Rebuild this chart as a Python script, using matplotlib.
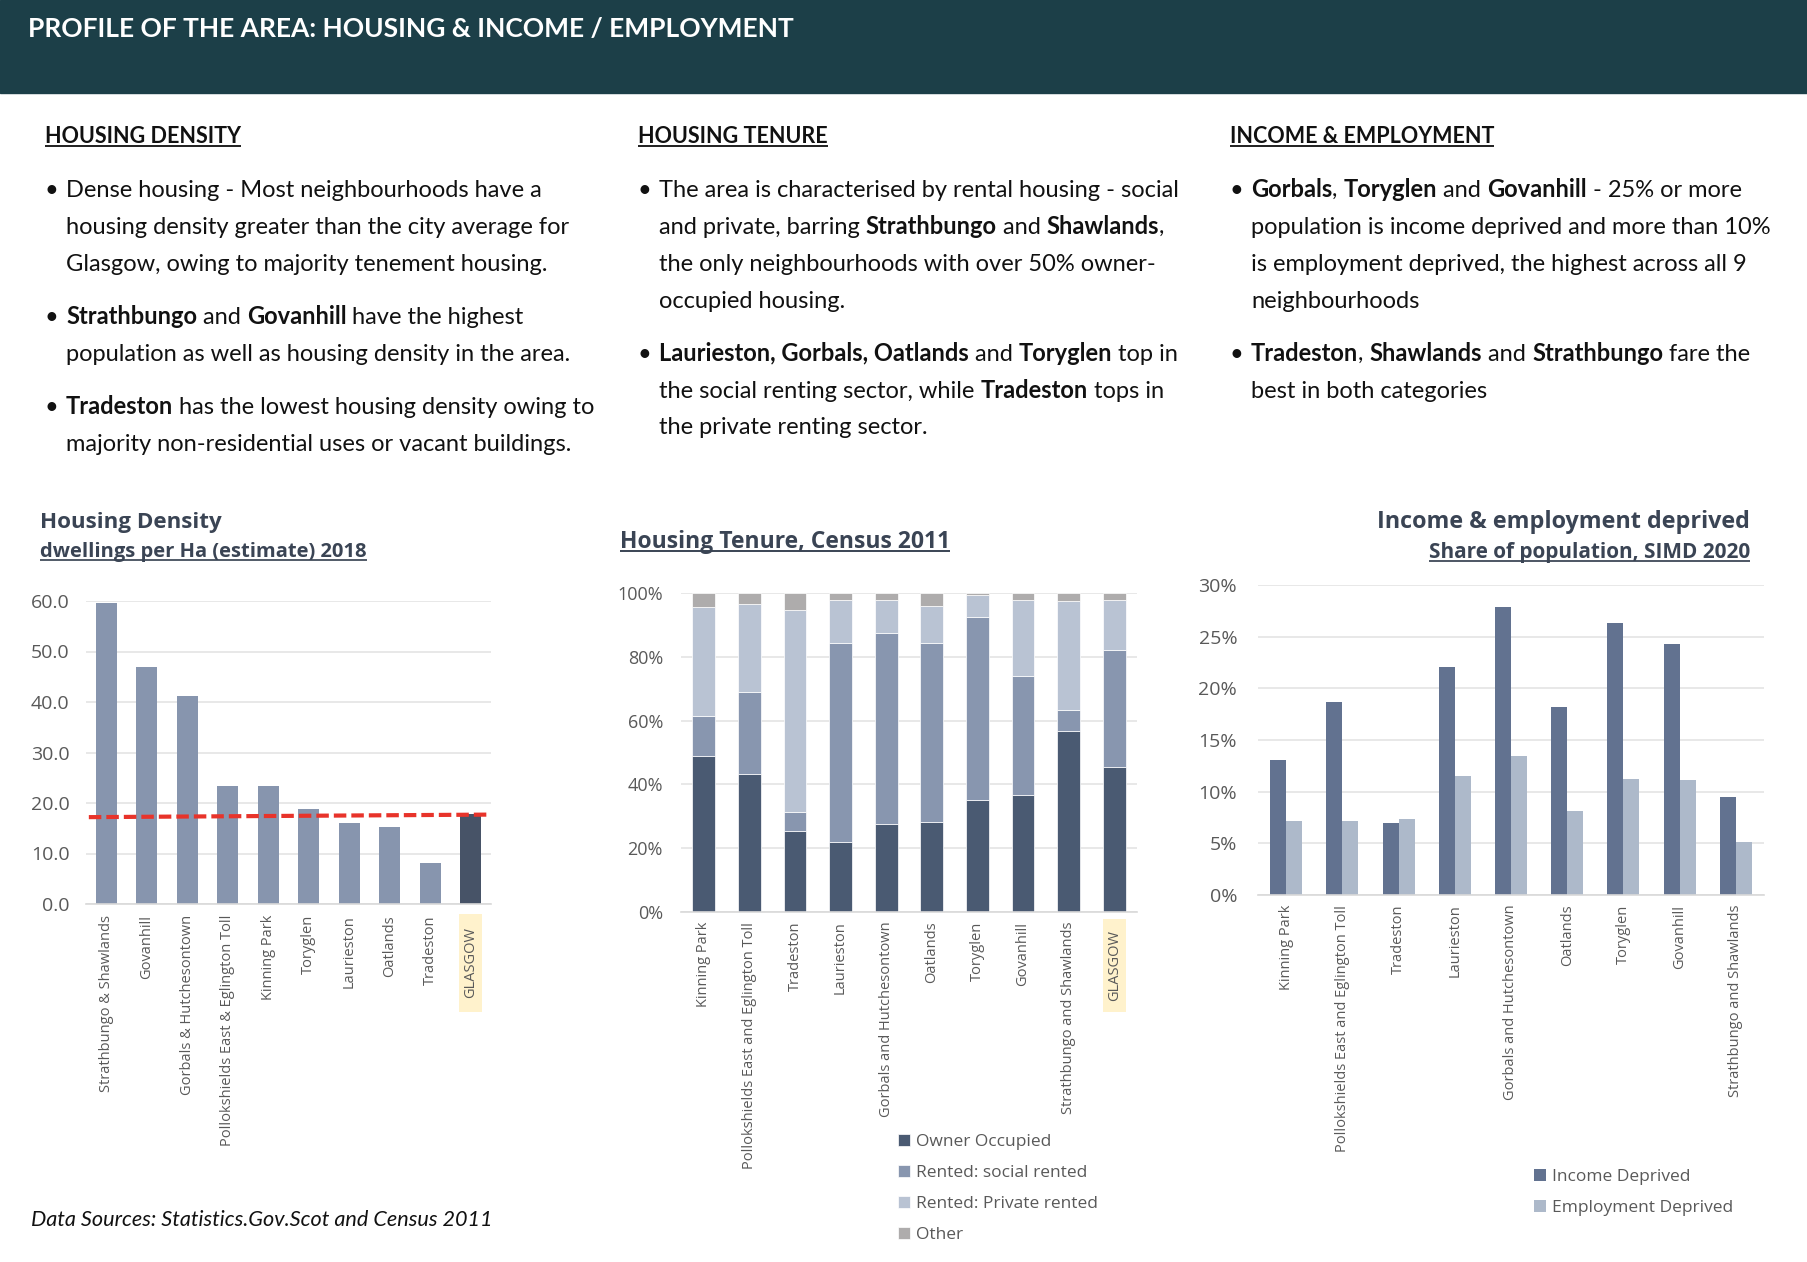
import matplotlib
matplotlib.use('Agg')
import matplotlib.pyplot as plt
from matplotlib.patches import Rectangle
from matplotlib.ticker import FuncFormatter
import numpy as np

W, H = 1808, 1262
TEXT_FONT = 'Lato'
plt.rcParams['font.family'] = ['Open Sans', 'DejaVu Sans']

HEADER_BG = '#1C3F48'
TITLE_C = '#3A4454'
TICK_C = '#595959'

# ---- data ----
density_areas = ['Strathbungo & Shawlands', 'Govanhill', 'Gorbals & Hutchesontown',
                 'Pollokshields East & Eglington Toll', 'Kinning Park', 'Toryglen',
                 'Laurieston', 'Oatlands', 'Tradeston', 'GLASGOW']
density_values = [59.7, 47.0, 41.2, 23.4, 23.3, 18.8, 16.0, 15.3, 8.1, 17.8]
glasgow_avg_line = [17.2, 17.7]

tenure_areas = ['Kinning Park', 'Pollokshields East and Eglington Toll', 'Tradeston',
                'Laurieston', 'Gorbals and Hutchesontown', 'Oatlands', 'Toryglen',
                'Govanhill', 'Strathbungo and Shawlands', 'GLASGOW']
owner_occupied = [49.0, 43.4, 25.4, 22.0, 27.7, 28.2, 35.2, 36.8, 56.7, 45.5]
social_rented = [12.4, 25.7, 5.8, 62.3, 59.7, 56.1, 57.3, 37.2, 6.5, 36.7]
private_rented = [34.2, 27.6, 63.6, 13.4, 10.3, 11.5, 6.8, 23.7, 34.2, 15.5]
other_tenure = [4.4, 3.3, 5.2, 2.3, 2.3, 4.2, 0.7, 2.3, 2.6, 2.3]

simd_areas = tenure_areas[:-1]
income_deprived = [13.1, 18.7, 7.0, 22.1, 27.9, 18.2, 26.3, 24.3, 9.5]
employment_deprived = [7.2, 7.2, 7.4, 11.5, 13.5, 8.1, 11.2, 11.1, 5.1]

fig = plt.figure(figsize=(W / 100, H / 100), dpi=100)
bg = fig.add_axes([0, 0, 1, 1])
bg.set_xlim(0, W)
bg.set_ylim(H, 0)
bg.axis('off')
renderer = fig.canvas.get_renderer()


def width_of(s, size, **kw):
    t = bg.text(0, 0, s, fontsize=size, **kw)
    w = t.get_window_extent(renderer).width
    t.remove()
    return w


def advance(s, size, **kw):
    # width including spaces at the ends
    return width_of('|' + s + '|', size, **kw) - width_of('||', size, **kw)


def fit(s, target, **kw):
    return 20 * target / width_of(s, 20, **kw)


def put(x, yc, s, size, ha='left', underline=False, color='black', **kw):
    px = size * 100 / 72
    base = yc + 0.36 * px
    bg.text(x, base, s, fontsize=size, ha=ha, va='baseline', color=color, **kw)
    if underline:
        w = width_of(s, size, **kw)
        x0 = x if ha == 'left' else x - w
        uy = base + 0.14 * px
        bg.plot([x0, x0 + w], [uy, uy], color=color, lw=max(1.0, size * 0.085),
                solid_capstyle='butt')


def put_runs(x, yc, runs, size, color='#111111'):
    for s, bold in runs:
        kw = dict(family=TEXT_FONT, fontweight='bold' if bold else 'normal')
        put(x, yc, s, size, color=color, **kw)
        x += advance(s, size, **kw)


# ---- header ----
bg.add_patch(Rectangle((0, 0), W, 93, color=HEADER_BG, zorder=0))
hs = fit('PROFILE OF THE AREA: HOUSING & INCOME / EMPLOYMENT', 765,
         family=TEXT_FONT, fontweight='bold')
put(28, 28, 'PROFILE OF THE AREA: HOUSING & INCOME / EMPLOYMENT', hs,
    color='white', family=TEXT_FONT, fontweight='bold')

# ---- text columns ----
head_size = fit('HOUSING DENSITY', 196, family=TEXT_FONT, fontweight='bold')
body_size = fit('Dense housing - Most neighbourhoods have a', 478, family=TEXT_FONT)

columns = [
    (45, 'HOUSING DENSITY', [
        (188, [('Dense housing - Most neighbourhoods have a', False)], True),
        (225, [('housing density greater than the city average for', False)], False),
        (262, [('Glasgow, owing to majority tenement housing.', False)], False),
        (315, [('Strathbungo', True), (' and ', False), ('Govanhill', True),
               (' have the highest', False)], True),
        (352, [('population as well as housing density in the area.', False)], False),
        (405, [('Tradeston', True), (' has the lowest housing density owing to', False)], True),
        (442, [('majority non-residential uses or vacant buildings.', False)], False),
    ]),
    (638, 'HOUSING TENURE', [
        (188, [('The area is characterised by rental housing - social', False)], True),
        (225, [('and private, barring ', False), ('Strathbungo', True), (' and ', False),
               ('Shawlands', True), (',', False)], False),
        (262, [('the only neighbourhoods with over 50% owner-', False)], False),
        (299, [('occupied housing.', False)], False),
        (352, [('Laurieston, Gorbals, Oatlands', True), (' and ', False),
               ('Toryglen', True), (' top in', False)], True),
        (389, [('the social renting sector, while ', False), ('Tradeston', True),
               (' tops in', False)], False),
        (425, [('the private renting sector.', False)], False),
    ]),
    (1230, 'INCOME & EMPLOYMENT', [
        (188, [('Gorbals', True), (', ', False), ('Toryglen', True), (' and ', False),
               ('Govanhill', True), (' - 25% or more', False)], True),
        (225, [('population is income deprived and more than 10%', False)], False),
        (262, [('is employment deprived, the highest across all 9', False)], False),
        (299, [('neighbourhoods', False)], False),
        (352, [('Tradeston', True), (', ', False), ('Shawlands', True), (' and ', False),
               ('Strathbungo', True), (' fare the', False)], True),
        (389, [('best in both categories', False)], False),
    ]),
]

for cx, heading, lines in columns:
    put(cx, 135, heading, head_size, underline=True, color='#111111',
        family=TEXT_FONT, fontweight='bold')
    for yc, runs, bullet in lines:
        if bullet:
            put(cx + 6, yc, '\u2022', body_size, ha='center', color='#111111',
                family=TEXT_FONT)
        put_runs(cx + 21, yc, runs, body_size)


# ---- charts ----
def chart_axes(x0, y0, x1, y1):
    return fig.add_axes([x0 / W, 1 - y1 / H, (x1 - x0) / W, (y1 - y0) / H])


def style_axes(ax, ypad, xpad):
    for side in ['top', 'right', 'left']:
        ax.spines[side].set_visible(False)
    ax.spines['bottom'].set_color('#D9D9D9')
    ax.spines['bottom'].set_linewidth(1.2)
    ax.yaxis.grid(True, color='#E4E4E4', lw=1.2)
    ax.set_axisbelow(True)
    ax.tick_params(length=0, colors=TICK_C)
    ax.tick_params(axis='y', labelsize=14, pad=ypad)
    ax.tick_params(axis='x', labelsize=10.5, pad=xpad)


def highlight_last(ax, labels, top, bottom):
    # Excel-style shaded cell behind the GLASGOW category label
    ax.set_xticklabels(labels[:-1] + [''], rotation=90)
    xi = ax.get_xticks()[-1]
    xpix = ax.transData.transform((xi, 0))[0]
    bg.add_patch(Rectangle((xpix - 11.5, top), 23, bottom - top,
                           facecolor='#FFF2CC', edgecolor='none'))
    bg.text(xpix, (top + bottom) / 2, labels[-1], rotation=90, ha='center',
            va='center', fontsize=10.5, color=TICK_C)


# Housing density
ax1 = chart_axes(86, 601, 491, 904)
x1 = np.arange(len(density_areas))
bar_cols = ['#8795AE'] * (len(density_areas) - 1) + ['#475367']
ax1.bar(x1, density_values, width=0.53, color=bar_cols, zorder=2)
ax1.plot([-0.43, len(density_areas) - 0.57], glasgow_avg_line, color='#E8332A',
         lw=3, linestyle=(0, (3, 1.2)), zorder=3)
ax1.set_xlim(-0.5, len(density_areas) - 0.5)
ax1.set_ylim(0, 60)
ax1.set_yticks(np.arange(0, 61, 10))
ax1.yaxis.set_major_formatter(FuncFormatter(lambda v, p: f'{v:.1f}'))
ax1.set_xticks(x1)
style_axes(ax1, 12, 8)
highlight_last(ax1, density_areas, 914, 1012)

t_size = fit('Housing Density', 182, fontweight='bold')
put(40, 520, 'Housing Density', t_size, color=TITLE_C, fontweight='bold')
s_size = fit('dwellings per Ha (estimate) 2018', 327, fontweight='bold')
put(40, 550, 'dwellings per Ha (estimate) 2018', s_size, color=TITLE_C,
    fontweight='bold', underline=True)

# Housing tenure
ax2 = chart_axes(681, 593, 1137, 912)
x2 = np.arange(len(tenure_areas))
series = [('Owner Occupied', owner_occupied, '#4A5A72'),
          ('Rented: social rented', social_rented, '#8896AF'),
          ('Rented: Private rented', private_rented, '#B9C3D3'),
          ('Other', other_tenure, '#AEACAC')]
bottom = np.zeros(len(tenure_areas))
handles = []
for name, vals, col in series:
    b = ax2.bar(x2, vals, width=0.5, bottom=bottom, color=col, edgecolor='white',
                linewidth=0.5, label=name, zorder=2)
    handles.append(b)
    bottom += np.array(vals)
ax2.set_xlim(-0.5, len(tenure_areas) - 0.5)
ax2.set_ylim(0, 100)
ax2.set_yticks(np.arange(0, 101, 20))
ax2.yaxis.set_major_formatter(FuncFormatter(lambda v, p: f'{v:.0f}%'))
ax2.set_xticks(x2)
style_axes(ax2, 13, 7)
ax2.tick_params(axis='y', labelsize=13)
highlight_last(ax2, tenure_areas, 919, 1012)
ax2.legend(handles=handles, loc='upper left', bbox_to_anchor=(898 / W, 1 - 1134 / H),
           bbox_transform=fig.transFigure, frameon=False, fontsize=12.5,
           handlelength=0.7, handleheight=0.7, handletextpad=0.35,
           labelspacing=0.85, borderpad=0, borderaxespad=0, labelcolor=TICK_C)

tt_size = fit('Housing Tenure, Census 2011', 330, fontweight='bold')
put(620, 540, 'Housing Tenure, Census 2011', tt_size, color=TITLE_C,
    fontweight='bold', underline=True)

# Income & employment
ax3 = chart_axes(1258, 585, 1764, 895)
x3 = np.arange(len(simd_areas))
bw = 0.285
b_inc = ax3.bar(x3 - bw / 2, income_deprived, width=bw, color='#627290',
                label='Income Deprived', zorder=2)
b_emp = ax3.bar(x3 + bw / 2, employment_deprived, width=bw, color='#ADB9CA',
                label='Employment Deprived', zorder=2)
ax3.set_xlim(-0.5, len(simd_areas) - 0.5)
ax3.set_ylim(0, 30)
ax3.set_yticks(np.arange(0, 31, 5))
ax3.yaxis.set_major_formatter(FuncFormatter(lambda v, p: f'{v:.0f}%'))
ax3.set_xticks(x3)
ax3.set_xticklabels(simd_areas, rotation=90)
style_axes(ax3, 15, 7)
ax3.legend(handles=[b_inc, b_emp], loc='upper left',
           bbox_to_anchor=(1534 / W, 1 - 1169 / H), bbox_transform=fig.transFigure,
           frameon=False, fontsize=12.5, handlelength=0.7, handleheight=0.7,
           handletextpad=0.35, labelspacing=0.85, borderpad=0, borderaxespad=0,
           labelcolor=TICK_C)

it_size = fit('Income & employment deprived', 373, fontweight='bold')
put(1750, 520, 'Income & employment deprived', it_size, ha='right', color=TITLE_C,
    fontweight='bold')
is_size = fit('Share of population, SIMD 2020', 321, fontweight='bold')
put(1750, 551, 'Share of population, SIMD 2020', is_size, ha='right', color=TITLE_C,
    fontweight='bold', underline=True)

# source note
ds = 'Data Sources: Statistics.Gov.Scot and Census 2011'
ds_size = fit(ds, 461, family=TEXT_FONT, style='italic')
put(31, 1218, ds, ds_size, color='#111111', family=TEXT_FONT, style='italic')

fig.savefig('out.png', dpi=100)
print('saved out.png')
